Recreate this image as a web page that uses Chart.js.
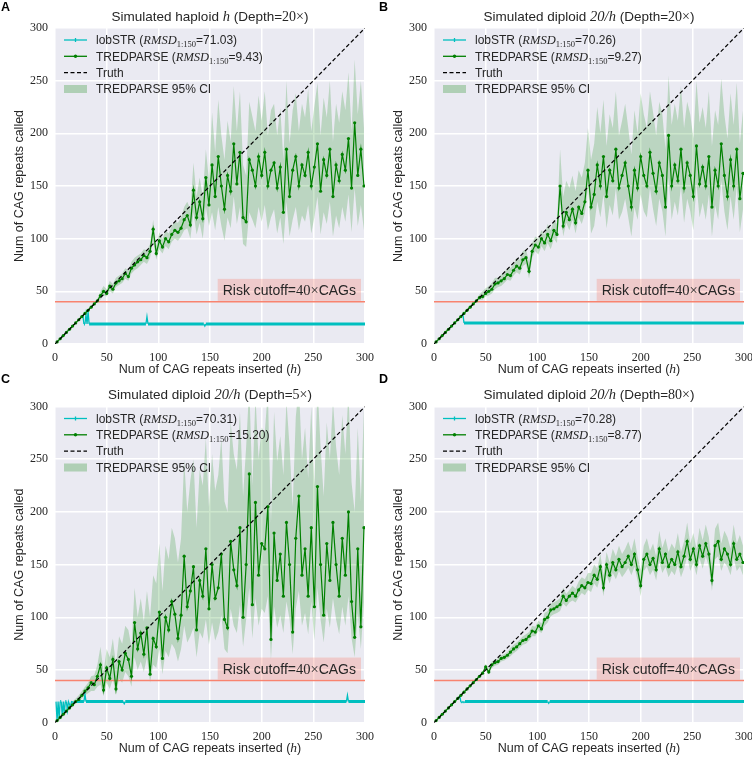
<!DOCTYPE html>
<html lang="en">
<head>
<meta charset="UTF-8">
<title>TREDPARSE vs lobSTR</title>
<script src="https://cdn.jsdelivr.net/npm/chart.js"></script>
<style>
  body { margin: 0; background: #fff; }
  #wrap { position: relative; width: 752px; height: 757px; }
  canvas { position: absolute; }
  .tag { position: absolute; font: bold 12.5px "Liberation Sans", Arial, sans-serif; color: #000; }
</style>
</head>
<body>
<div id="wrap">
  <canvas id="cA" width="376" height="378" style="left:0;top:0"></canvas>
  <canvas id="cB" width="376" height="378" style="left:376px;top:0"></canvas>
  <canvas id="cC" width="376" height="379" style="left:0;top:378px"></canvas>
  <canvas id="cD" width="376" height="379" style="left:376px;top:378px"></canvas>
  <div class="tag" style="left:1px;top:0">A</div>
  <div class="tag" style="left:379px;top:0">B</div>
  <div class="tag" style="left:1px;top:372px">C</div>
  <div class="tag" style="left:379px;top:372px">D</div>
</div>
<script>
// axis ticks and the cutoff
const ticks = [0, 50, 100, 150, 200, 250, 300];
const cutoff = 40;

// inserted repeat counts (h) for the TREDPARSE calls and their CI
const hX = [];
for (let h = 2; h <= 299; h += 3) hX.push(h);

// TREDPARSE calls, one per hX
const tredA = [2,5,8,11,14,17,20,23,26,29, 32,35,38,41,46,50,48,55,52,58,
  60,62,67,64,72,75,78,80,84,82, 88,109,86,98,92,100,97,104,108,106,
  110,118,122,113,146,120,135,119,158,132, 170,140,178,150,128,160,145,190,152,182,
  120,116,175,165,150,178,160,182,150,165, 172,148,168,125,185,140,165,178,150,170,
  160,182,150,168,190,145,175,160,185,140, 170,155,180,165,195,148,210,160,185,150];
const tredB = [2,5,8,11,14,17,20,23,26,29, 32,35,38,41,44,45,48,50,52,57,
  58,60,62,66,65,70,74,72,80,82, 69,88,94,92,100,96,104,98,108,104,
  150,112,125,118,128,115,130,124,135,165, 130,142,170,150,178,140,165,155,185,148,
  160,172,150,130,165,148,178,160,150,182, 162,145,172,160,130,198,150,170,155,185,
  148,172,160,140,188,152,168,150,178,130, 165,150,190,160,140,175,150,185,138,162];
const tredC = [2,5,8,11,14,17,20,22,26,30, 33,38,36,44,55,31,52,42,60,32,
  58,50,66,60,44,95,70,85,65,90, 46,80,72,105,61,100,88,115,103,80,
  102,158,110,125,148,88,135,120,165,108, 150,118,128,160,98,90,172,145,130,185,
  100,150,236,112,209,140,170,165,205,79, 180,135,160,120,190,150,86,175,215,140,
  165,120,185,110,224,150,102,170,135,190, 150,120,175,140,200,115,81,165,91,185];
const tredD = [2,5,8,11,14,17,20,23,26,29, 32,35,38,41,44,47,53,48,55,57,
  58,61,62,64,67,70,72,75,78,79, 82,87,86,92,89,98,100,107,108,110,
  112,120,116,120,123,120,126,130,128,133, 132,140,136,148,128,150,140,152,145,155,
  148,152,158,150,160,145,130,155,160,150, 156,145,165,152,160,148,155,150,162,148,
  158,172,155,165,150,168,158,170,160,135, 168,172,155,165,160,150,170,155,160,152];

// TREDPARSE 95% CI bounds, one per hX
const ciLoA = [1,4,7,10,13,16,19,22,25,28, 31,34,37,40,42,46,45,50,48,54,
  56,58,62,60,67,70,72,75,78,76, 82,98,80,90,86,93,90,97,100,98,
  102,108,110,100,125,104,115,100,130,112, 125,108,130,112,98,120,110,140,114,130,
  95,92,125,118,110,130,116,132,108,120, 128,105,120,95,135,102,118,130,108,122,
  116,132,105,120,140,104,125,114,135,102, 122,110,130,116,142,106,148,112,132,108];
const ciHiA = [3,6,9,12,15,18,21,24,27,30, 33,36,39,43,50,55,52,60,57,63,
  65,67,72,70,78,82,84,86,90,89, 95,118,93,106,100,108,105,112,116,115,
  120,130,135,128,172,140,158,140,185,155, 220,182,232,198,175,212,192,245,202,240,
  170,160,230,216,202,236,212,240,198,222, 228,198,224,175,250,190,222,238,202,228,
  215,242,202,226,248,198,234,215,250,192, 228,210,240,222,258,202,270,218,250,205];
const ciLoB = [1,4,7,10,13,16,19,22,25,28, 31,34,37,40,42,42,45,46,48,52,
  54,55,58,61,60,65,68,66,74,76, 62,82,88,85,93,88,96,90,100,96,
  135,102,115,108,118,105,120,114,124,148, 105,112,135,120,142,110,132,122,148,118,
  125,138,120,102,130,118,142,126,120,148, 128,112,138,126,102,158,118,135,122,150,
  115,138,126,108,152,120,134,118,142,102, 132,118,155,126,108,140,118,150,106,128];
const ciHiB = [3,6,9,12,15,18,21,24,27,30, 33,36,39,42,47,50,53,55,58,63,
  63,66,68,72,72,76,82,80,88,90, 78,96,102,100,108,104,114,108,118,114,
  185,140,155,148,160,145,165,158,172,205, 175,190,225,200,232,188,218,205,240,198,
  212,228,205,180,222,200,238,218,205,240, 220,198,230,218,185,255,208,228,212,245,
  205,230,218,195,250,210,225,205,240,188, 222,208,252,218,195,238,208,248,190,222];
const ciLoC = [0,3,6,9,12,15,18,20,23,26, 28,30,30,34,36,25,38,32,42,26,
  42,38,48,44,34,62,50,58,48,62, 38,55,52,70,46,68,62,75,70,58,
  70,92,76,82,90,62,86,80,98,74, 95,78,86,102,70,66,108,92,85,112,
  72,98,128,80,118,92,108,104,120,60, 110,90,102,85,115,98,65,108,125,92,
  104,84,115,78,128,98,76,108,90,118, 98,84,110,92,120,80,62,104,70,115];
const ciHiC = [3,7,10,14,17,20,23,26,30,34, 38,44,45,55,72,48,70,62,80,55,
  82,75,92,88,72,128,100,118,96,125, 100,140,132,170,125,168,155,185,175,152,
  175,250,200,230,250,185,240,225,270,205, 255,220,235,270,210,200,285,255,240,295,
  215,262,320,225,310,250,280,275,315,190, 295,248,272,235,305,262,205,290,320,250,
  280,232,300,225,320,262,215,285,250,305, 262,235,292,255,315,228,200,280,210,300];
const ciLoD = [1,4,7,10,13,16,19,22,25,28, 31,34,37,40,43,46,50,46,52,54,
  55,58,59,61,63,66,68,71,74,75, 78,82,82,87,85,92,95,101,103,104,
  106,113,110,114,116,114,119,123,121,126, 124,132,128,138,120,140,132,142,136,144,
  138,142,147,140,148,135,120,144,148,140, 145,135,153,142,148,138,144,140,150,138,
  146,158,144,152,140,156,146,158,148,125, 155,158,144,152,148,140,156,144,148,140];
const ciHiD = [3,6,9,12,15,18,21,24,27,30, 33,36,39,42,45,48,56,51,58,60,
  61,64,65,67,71,74,76,79,82,84, 86,92,91,97,94,104,106,113,114,116,
  118,128,122,126,130,127,134,138,136,142, 142,150,146,160,140,162,152,165,158,168,
  160,165,172,163,175,158,145,168,175,163, 170,158,182,166,175,162,170,165,180,162,
  172,190,170,180,165,185,173,188,176,150, 184,190,170,182,176,165,188,170,178,168];

// lobSTR calls as [h, called]
const lobA = [[26,26],[27,27],[28,19],[29,19],[30,28],[31,19],[32,31],[33,19],[88,19],[89,26],[90,19],
  [144,19],[145,17],[146,19],[300,19]];
const lobB = [[27,27],[28,28],[29,20],[300,20]];
const lobC = [[1,20],[2,2],[3,20],[4,4],[5,20],[6,20],[7,7],[8,20],[9,9],[10,20],[11,20],[12,12],[13,20],
  [15,15],[16,20],[19,19],[20,20],[28,20],[29,27],[30,20],[66,20],[67,18],[68,20],[282,20],[283,26],[284,20],[300,20]];
const lobD = [[24,24],[25,25],[26,20],[27,19],[28,20],[29,19],[30,20],[110,20],[111,18.5],[112,20],[300,20]];

const SANS = '"Liberation Sans", Arial, sans-serif';
const SERIF = '"Liberation Serif", "Times New Roman", serif';
const fSans = s => s + 'px ' + SANS;
const fSerif = s => s + 'px ' + SERIF;
const fIt = s => 'italic ' + s + 'px ' + SERIF;
const INK = '#262626';

function runW(c, runs) {
  let w = 0;
  runs.forEach(r => { c.font = r[1]; w += c.measureText(r[0]).width; });
  return w;
}
function runDraw(c, runs, x, y) {
  runs.forEach(r => {
    c.font = r[1];
    c.fillText(r[0], x, y + (r[2] || 0));
    x += c.measureText(r[0]).width;
  });
}

const panelText = {
  id: 'panelText',
  beforeDraw(chart) {
    const a = chart.chartArea, c = chart.ctx;
    c.save();
    c.fillStyle = '#EAEAF2';
    c.fillRect(a.left, a.top, a.right - a.left, a.bottom - a.top);
    c.restore();
  },
  afterDraw(chart) {
    const p = chart.options.plugins.panelText;
    const a = chart.chartArea, c = chart.ctx;
    const ys = chart.scales.y;
    c.save();
    c.fillStyle = INK;
    c.textBaseline = 'alphabetic';

    // title
    const tr = [[p.kind === 'haploid' ? 'Simulated haploid ' : 'Simulated diploid ', fSans(13.5)],
      [p.kind === 'haploid' ? 'h' : '20/h', fIt(14.5)],
      [' (Depth=', fSans(13.5)], [p.depth + '\u00d7', fSerif(14)], [')', fSans(13.5)]];
    runDraw(c, tr, (a.left + a.right) / 2 - runW(c, tr) / 2, a.top - 7.5);

    // axis titles
    const xr = [['Num of CAG repeats inserted (', fSans(12.5)], ['h', fIt(13.5)], [')', fSans(12.5)]];
    runDraw(c, xr, (a.left + a.right) / 2 - runW(c, xr) / 2, a.bottom + 29);
    c.save();
    c.translate(a.left - 35, (a.top + a.bottom) / 2);
    c.rotate(-Math.PI / 2);
    c.textAlign = 'center';
    c.textBaseline = 'middle';
    c.font = fSans(12.5);
    c.fillText('Num of CAG repeats called', 0, 0);
    c.restore();

    // risk cutoff label
    const rr = [['Risk cutoff=', fSans(14)], ['40\u00d7', fSerif(14.5)], ['CAGs', fSans(14)]];
    const rw = runW(c, rr) + 10;
    const rb = ys.getPixelForValue(cutoff) - 1;
    const rx = a.right - 4 - rw;
    c.fillStyle = 'rgba(250,128,114,0.3)';
    c.fillRect(rx, rb - 22, rw, 22);
    c.fillStyle = INK;
    runDraw(c, rr, rx + 5, rb - 6);

    // legend
    const lx = a.left + 9, tx = a.left + 41;
    const rows = [a.top + 12, a.top + 28.3, a.top + 44.6, a.top + 61];
    c.lineWidth = 1.3;
    c.strokeStyle = '#00BFBF';
    c.beginPath(); c.moveTo(lx, rows[0]); c.lineTo(lx + 23, rows[0]); c.stroke();
    c.beginPath(); c.moveTo(lx + 11.5, rows[0] - 2); c.lineTo(lx + 11.5, rows[0] + 2); c.stroke();
    c.strokeStyle = '#008000';
    c.beginPath(); c.moveTo(lx, rows[1]); c.lineTo(lx + 23, rows[1]); c.stroke();
    c.fillStyle = '#008000';
    c.beginPath(); c.arc(lx + 11.5, rows[1], 1.7, 0, Math.PI * 2); c.fill();
    c.strokeStyle = '#000';
    c.setLineDash([4, 2.5]);
    c.beginPath(); c.moveTo(lx, rows[2]); c.lineTo(lx + 23, rows[2]); c.stroke();
    c.setLineDash([]);
    c.fillStyle = 'rgba(0,128,0,0.25)';
    c.fillRect(lx, rows[3] - 4, 23, 8);

    c.fillStyle = INK;
    const base = 4.3;
    runDraw(c, [['lobSTR (', fSans(12)], ['RMSD', fIt(12.5)], ['1:150', fSerif(8.5), 3],
      ['=' + p.rmsdLob + ')', fSans(12)]], tx, rows[0] + base);
    runDraw(c, [['TREDPARSE (', fSans(12)], ['RMSD', fIt(12.5)], ['1:150', fSerif(8.5), 3],
      ['=' + p.rmsdTred + ')', fSans(12)]], tx, rows[1] + base);
    runDraw(c, [['Truth', fSans(12)]], tx, rows[2] + base);
    runDraw(c, [['TREDPARSE 95% CI', fSans(12)]], tx, rows[3] + base);
    c.restore();
  }
};

function buildChart(p) {
  const pts = (xv, yv) => xv.map((x, i) => ({x: x, y: yv[i]}));
  const axis = (isX) => ({
    type: 'linear', min: 0, max: 300,
    afterBuildTicks: s => { s.ticks = ticks.map(v => ({value: v})); },
    ticks: { font: {family: SERIF, size: 12}, color: INK, padding: 7, maxRotation: 0, autoSkip: false },
    grid: { color: '#ffffff', lineWidth: 1.5, drawTicks: false },
    border: { display: false },
    afterFit: s => {
      if (isX) s.height = p.B; else s.width = p.L;
      s.paddingLeft = 0; s.paddingRight = 0; s.paddingTop = 0; s.paddingBottom = 0;
    }
  });
  new Chart(document.getElementById(p.id), {
    type: 'line',
    data: {
      datasets: [
        { label: 'Truth', data: [{x: 0, y: 0}, {x: 300, y: 300}], borderColor: '#000', borderWidth: 1.2,
          borderDash: [4, 2.5], pointRadius: 0, order: 0 },
        { label: 'TREDPARSE', data: pts(hX, p.tred), borderColor: '#008000', backgroundColor: '#008000',
          borderWidth: 1.2, pointRadius: 1.6, pointBorderWidth: 0, order: 1 },
        { label: 'lobSTR', data: p.lob.map(v => ({x: v[0], y: v[1]})), borderColor: '#00BFBF', borderWidth: 3,
          pointRadius: 0, order: 2,
          segment: { borderWidth: s => s.p0.parsed.y === s.p1.parsed.y ? 3 : 1.3 } },
        { label: 'cutoff', data: [{x: 0, y: cutoff}, {x: 300, y: cutoff}], borderColor: '#F8836F',
          borderWidth: 1.5, pointRadius: 0, order: 3 },
        { label: 'CI low', data: pts(hX, p.lo), borderColor: 'rgba(0,0,0,0)', pointRadius: 0, fill: false, order: 5 },
        { label: 'CI high', data: pts(hX, p.hi), borderColor: 'rgba(0,0,0,0)', pointRadius: 0, fill: '-1',
          backgroundColor: 'rgba(0,128,0,0.2)', order: 4 }
      ]
    },
    options: {
      responsive: false,
      animation: false,
      devicePixelRatio: 1,
      layout: { padding: { top: p.T, right: p.R, left: 0, bottom: 0 } },
      elements: { line: { tension: 0 } },
      scales: { x: axis(true), y: axis(false) },
      plugins: {
        legend: { display: false },
        tooltip: { enabled: false },
        panelText: p
      }
    },
    plugins: [panelText]
  });
}

buildChart({ id: 'cA', L: 55, R: 11, T: 28, B: 34, kind: 'haploid', depth: '20',
  rmsdLob: '71.03', rmsdTred: '9.43', tred: tredA, lo: ciLoA, hi: ciHiA, lob: lobA });
buildChart({ id: 'cB', L: 58, R: 8, T: 28, B: 34, kind: 'diploid', depth: '20',
  rmsdLob: '70.26', rmsdTred: '9.27', tred: tredB, lo: ciLoB, hi: ciHiB, lob: lobB });
buildChart({ id: 'cC', L: 55, R: 11, T: 28.5, B: 34.3, kind: 'diploid', depth: '5',
  rmsdLob: '70.31', rmsdTred: '15.20', tred: tredC, lo: ciLoC, hi: ciHiC, lob: lobC });
buildChart({ id: 'cD', L: 58, R: 8, T: 28.5, B: 34.3, kind: 'diploid', depth: '80',
  rmsdLob: '70.28', rmsdTred: '8.77', tred: tredD, lo: ciLoD, hi: ciHiD, lob: lobD });
</script>
</body>
</html>
